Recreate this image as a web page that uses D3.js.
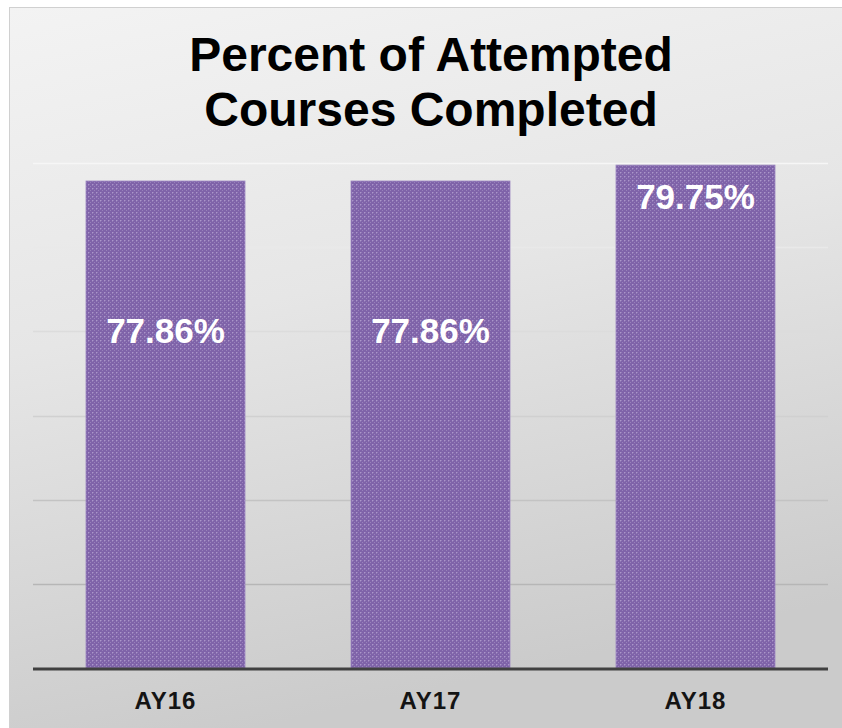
<!DOCTYPE html>
<html>
<head>
<meta charset="utf-8">
<script src="https://cdn.jsdelivr.net/npm/d3@7/dist/d3.min.js"></script>
<style>
  html, body { margin: 0; padding: 0; background: #ffffff; }
  svg { display: block; }
</style>
</head>
<body>
<svg id="chart" width="842" height="728"></svg>
<script>
// ---- data ----
const categories = ["AY16", "AY17", "AY18"];
const values = [77.86, 77.86, 79.75];
const valueLabels = ["77.86%", "77.86%", "79.75%"];
const titleLines = ["Percent of Attempted", "Courses Completed"];
const gridTicks = [20, 30, 40, 50, 60, 70, 80];

// ---- layout ----
const W = 842, H = 728;
const plot = { left: 33, right: 828, top: 163, bottom: 668 };
const font = "'Liberation Sans', Arial, Helvetica, sans-serif";

const svg = d3.select("#chart");
const defs = svg.append("defs");

// background gradient
const bg = defs.append("linearGradient").attr("id", "bgGrad")
  .attr("x1", "0").attr("y1", "0").attr("x2", "0.25").attr("y2", "1");
bg.append("stop").attr("offset", "0%").attr("stop-color", "#f3f3f3");
bg.append("stop").attr("offset", "45%").attr("stop-color", "#e6e6e6");
bg.append("stop").attr("offset", "100%").attr("stop-color", "#cbcbcb");

// bar texture pattern
const pat = defs.append("pattern").attr("id", "barPat")
  .attr("width", 4).attr("height", 4).attr("patternUnits", "userSpaceOnUse");
pat.append("rect").attr("width", 4).attr("height", 4).attr("fill", "#7f63a9");
pat.append("rect").attr("x", 0).attr("y", 0).attr("width", 1).attr("height", 1).attr("fill", "#ab95cb");
pat.append("rect").attr("x", 2).attr("y", 2).attr("width", 1).attr("height", 1).attr("fill", "#9882bb");
pat.append("rect").attr("x", 1).attr("y", 0).attr("width", 1).attr("height", 1).attr("fill", "#927bb6");
pat.append("rect").attr("x", 0).attr("y", 1).attr("width", 1).attr("height", 1).attr("fill", "#927bb6");

// panel
svg.append("rect")
  .attr("x", 9.5).attr("y", 7.5).attr("width", W).attr("height", H)
  .attr("fill", "url(#bgGrad)")
  .attr("stroke", "#d0d0d0").attr("stroke-width", 1);

// scales
const x = d3.scaleBand().domain(categories)
  .range([plot.left, plot.right]).paddingInner(0.4).paddingOuter(0.2);
const y = d3.scaleLinear().domain([20, 80]).range([plot.bottom, plot.top]);
const gridColor = d3.scaleLinear().domain([20, 80]).range(["#a9a9a9", "#f6f6f6"]);

// gridlines
svg.append("g").selectAll("line").data(gridTicks.slice(1)).join("line")
  .attr("x1", plot.left).attr("x2", plot.right)
  .attr("y1", d => Math.round(y(d)) + 0.5).attr("y2", d => Math.round(y(d)) + 0.5)
  .attr("stroke", d => gridColor(d)).attr("stroke-width", 1.5);

// bars
svg.append("g").selectAll("rect").data(values).join("rect")
  .attr("x", (d, i) => x(categories[i]))
  .attr("width", x.bandwidth())
  .attr("y", d => y(d))
  .attr("height", d => y(20) - y(d))
  .attr("fill", "url(#barPat)")
  .attr("stroke", "#9c86c0").attr("stroke-width", 0.8);

// baseline axis
svg.append("line")
  .attr("x1", plot.left).attr("x2", plot.right)
  .attr("y1", plot.bottom + 1).attr("y2", plot.bottom + 1)
  .attr("stroke", "#404040").attr("stroke-width", 3);

// category labels via axis
const xAxis = svg.append("g")
  .attr("transform", `translate(0,${plot.bottom + 1})`)
  .call(d3.axisBottom(x).tickSize(0).tickPadding(23));
xAxis.select(".domain").remove();
xAxis.selectAll("text")
  .attr("font-family", font).attr("font-size", 24).attr("font-weight", "bold")
  .attr("fill", "#141414").attr("letter-spacing", "1px");

// value labels (first two sit lower inside bar, last at inside end)
const labelDrop = [162, 162, 44];
svg.append("g").selectAll("text").data(values).join("text")
  .attr("x", (d, i) => x(categories[i]) + x.bandwidth() / 2)
  .attr("y", (d, i) => y(d) + labelDrop[i])
  .attr("text-anchor", "middle")
  .attr("font-family", font).attr("font-size", 35).attr("font-weight", "bold")
  .attr("fill", "#ffffff")
  .text((d, i) => valueLabels[i]);

// title
svg.append("g").selectAll("text").data(titleLines).join("text")
  .attr("x", 431).attr("y", (d, i) => 71 + i * 55)
  .attr("text-anchor", "middle")
  .attr("font-family", font).attr("font-size", 48).attr("font-weight", "bold")
  .attr("fill", "#000000")
  .text(d => d);
</script>
</body>
</html>
